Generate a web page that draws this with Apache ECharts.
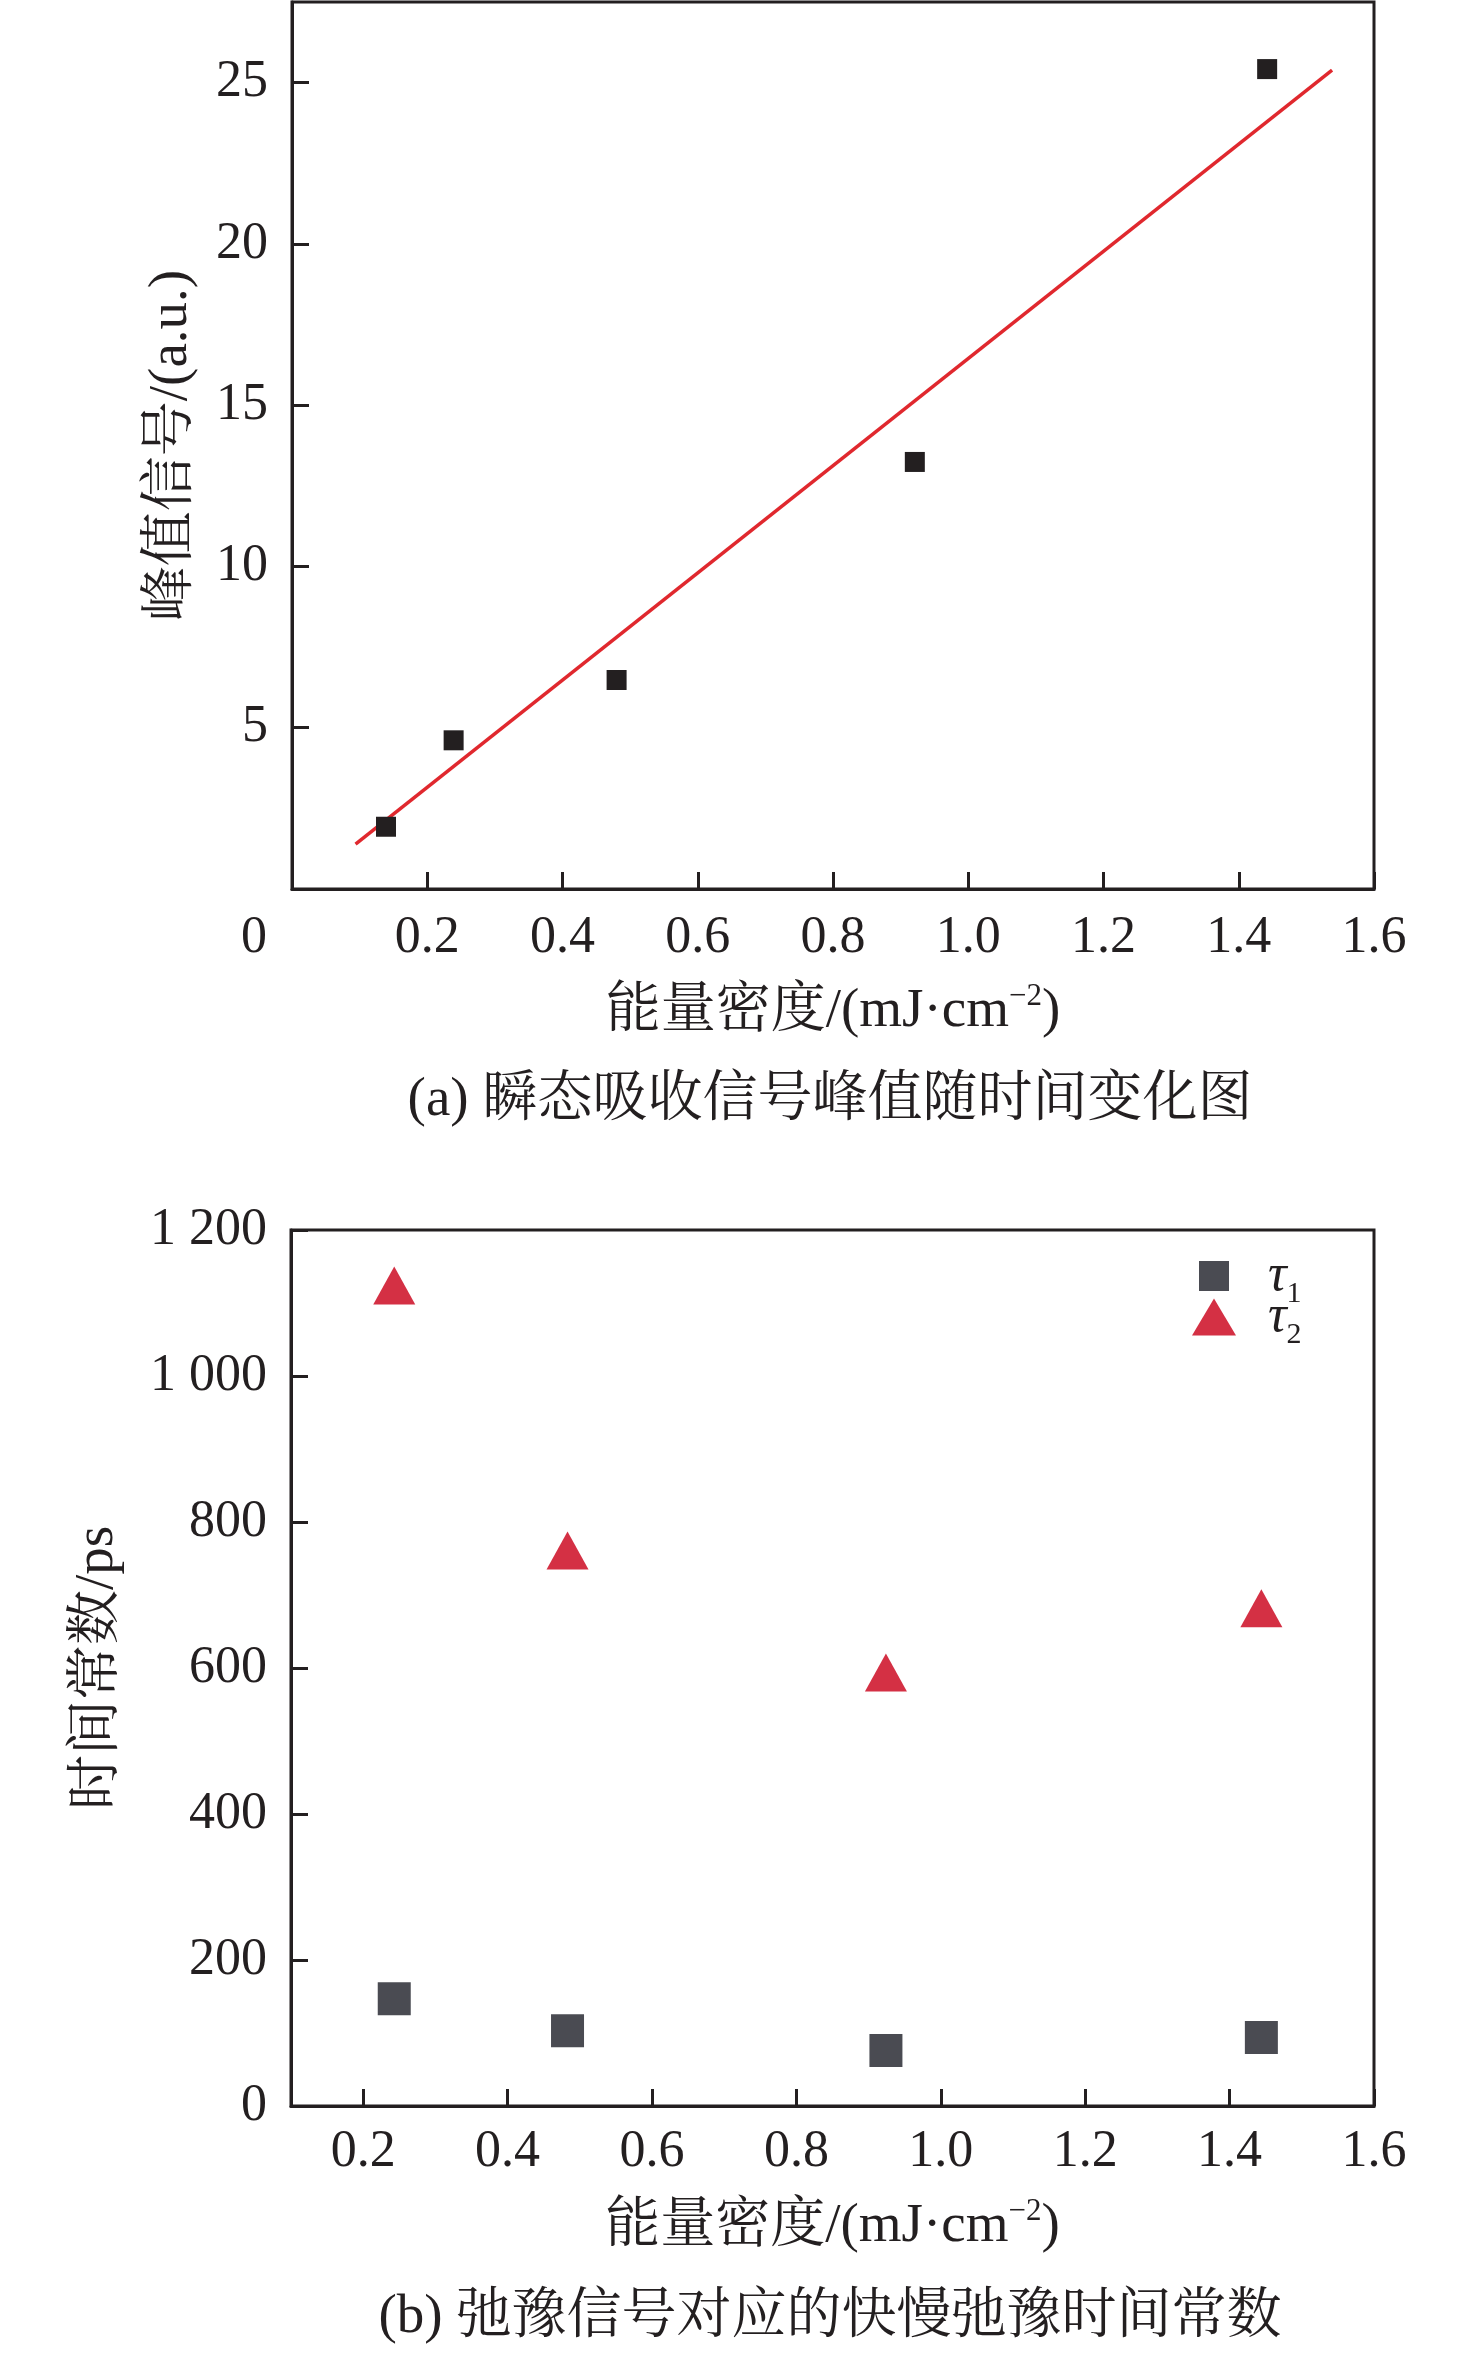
<!DOCTYPE html>
<html>
<head>
<meta charset="utf-8">
<script src="https://cdn.jsdelivr.net/npm/echarts@6/dist/echarts.min.js"></script>
<style>
  html, body { margin: 0; padding: 0; background: #fff; }
  #chart { width: 1476px; height: 2355px; }
</style>
</head>
<body>
<div id="chart"></div>
<script>
// (a) peak signal vs energy density
const xPeak = [0.139, 0.239, 0.480, 0.921, 1.442];
const yPeak = [1.93, 4.61, 6.48, 13.24, 25.42];
// fitted line end points
const fitX = [0.094, 1.538];
const fitY = [1.39, 25.39];

// (b) time constants vs energy density
const xTau = [0.243, 0.483, 0.924, 1.444];
const tau1 = [147, 103, 76, 94];
const tau2 = [1124, 761, 594, 682];

const FONT = "'Liberation Serif', 'Noto Serif CJK SC', 'Noto Sans CJK SC', serif";
const INK = '#231f20';
const FS = 52;
const NS = 55;

const pairs = (xs, ys) => xs.map((x, i) => [x, ys[i]]);

const axisCommon = {
  axisLine: { show: true, lineStyle: { color: INK, width: 3 } },
  axisTick: { show: true, inside: true, length: 17, lineStyle: { color: INK, width: 3 } },
  splitLine: { show: false },
  axisLabel: { color: INK, fontFamily: FONT, fontSize: FS, margin: 24 },
  nameTextStyle: {
    color: INK, fontFamily: FONT, fontSize: NS, lineHeight: 62,
    rich: { sup: { fontFamily: FONT, fontSize: 31, lineHeight: 31, padding: [0, 0, 31, 0], color: INK } }
  },
  nameLocation: 'middle'
};

const legendRich = (padLeft) => ({
  t: { fontFamily: FONT, fontStyle: 'italic', fontSize: FS, lineHeight: 66, color: INK, padding: [0, 0, 0, padLeft] },
  s: { fontFamily: FONT, fontSize: 30, lineHeight: 30, padding: [36, 0, 0, 0], color: INK }
});
const legendFmt = (name) => '{t|τ}{s|' + name.slice(1) + '}';

const xName = '能量密度/(mJ·cm{sup|−2})';

const myChart = echarts.init(document.getElementById('chart'));

const option = {
  animation: false,
  backgroundColor: '#fff',
  grid: [
    { left: 292, top: 2, width: 1082, height: 887, show: true, borderColor: INK, borderWidth: 3, containLabel: false },
    { left: 291, top: 1230, width: 1083, height: 876, show: true, borderColor: INK, borderWidth: 3, containLabel: false }
  ],
  xAxis: [
    Object.assign({}, axisCommon, {
      gridIndex: 0, type: 'value', min: 0, max: 1.6, interval: 0.2,
      name: xName, nameGap: 92,
      axisLabel: Object.assign({}, axisCommon.axisLabel, {
        margin: 23,
        formatter: v => v === 0 ? '{o|0}' : v.toFixed(1),
        rich: { o: { fontFamily: FONT, fontSize: FS, color: INK, padding: [0, 76, 0, 0] } }
      })
    }),
    Object.assign({}, axisCommon, {
      gridIndex: 1, type: 'value', min: 0.1, max: 1.6, splitNumber: 8,
      name: xName, nameGap: 90,
      axisLabel: Object.assign({}, axisCommon.axisLabel, {
        margin: 20, showMinLabel: false,
        formatter: v => v.toFixed(1)
      })
    })
  ],
  yAxis: [
    Object.assign({}, axisCommon, {
      gridIndex: 0, type: 'value', min: 0, max: 27.5, interval: 5,
      name: '峰值信号/(a.u.)', nameGap: 89,
      axisLabel: Object.assign({}, axisCommon.axisLabel, { showMinLabel: false, showMaxLabel: false })
    }),
    Object.assign({}, axisCommon, {
      gridIndex: 1, type: 'value', min: 0, max: 1200, interval: 200,
      name: '时间常数/ps', nameGap: 162,
      axisLabel: Object.assign({}, axisCommon.axisLabel, {
        formatter: v => String(v).replace(/\B(?=(\d{3})+(?!\d))/g, ' ')
      })
    })
  ],
  legend: [
    {
      data: ['τ1'], left: 1199, top: 1243, padding: 0, orient: 'vertical',
      itemWidth: 30, itemHeight: 30, selectedMode: false,
      formatter: legendFmt, textStyle: { rich: legendRich(34) }
    },
    {
      data: ['τ2'], left: 1192, top: 1284, padding: 0, orient: 'vertical',
      itemWidth: 44, itemHeight: 37, selectedMode: false,
      formatter: legendFmt, textStyle: { rich: legendRich(27) }
    }
  ],
  series: [
    {
      name: 'fit', type: 'line', xAxisIndex: 0, yAxisIndex: 0,
      data: pairs(fitX, fitY), symbol: 'none',
      lineStyle: { color: '#e0282e', width: 3.5 }, z: 2
    },
    {
      name: 'peak', type: 'scatter', xAxisIndex: 0, yAxisIndex: 0,
      data: pairs(xPeak, yPeak), symbol: 'rect', symbolSize: 20,
      itemStyle: { color: INK, opacity: 1 }, z: 3
    },
    {
      name: 'τ1', type: 'scatter', xAxisIndex: 1, yAxisIndex: 1,
      data: pairs(xTau, tau1), symbol: 'rect', symbolSize: 33,
      itemStyle: { color: '#4a4b52', opacity: 1 }
    },
    {
      name: 'τ2', type: 'scatter', xAxisIndex: 1, yAxisIndex: 1,
      data: pairs(xTau, tau2), symbol: 'triangle', symbolSize: [42, 38],
      itemStyle: { color: '#d43044', opacity: 1 }
    }
  ],
  graphic: [
    {
      type: 'text', x: 830, y: 1101,
      style: { text: '(a) 瞬态吸收信号峰值随时间变化图', fill: INK, font: NS + 'px ' + FONT, align: 'center', verticalAlign: 'middle' }
    },
    {
      type: 'text', x: 830, y: 2318,
      style: { text: '(b) 弛豫信号对应的快慢弛豫时间常数', fill: INK, font: NS + 'px ' + FONT, align: 'center', verticalAlign: 'middle' }
    }
  ]
};

myChart.setOption(option);
</script>
</body>
</html>
